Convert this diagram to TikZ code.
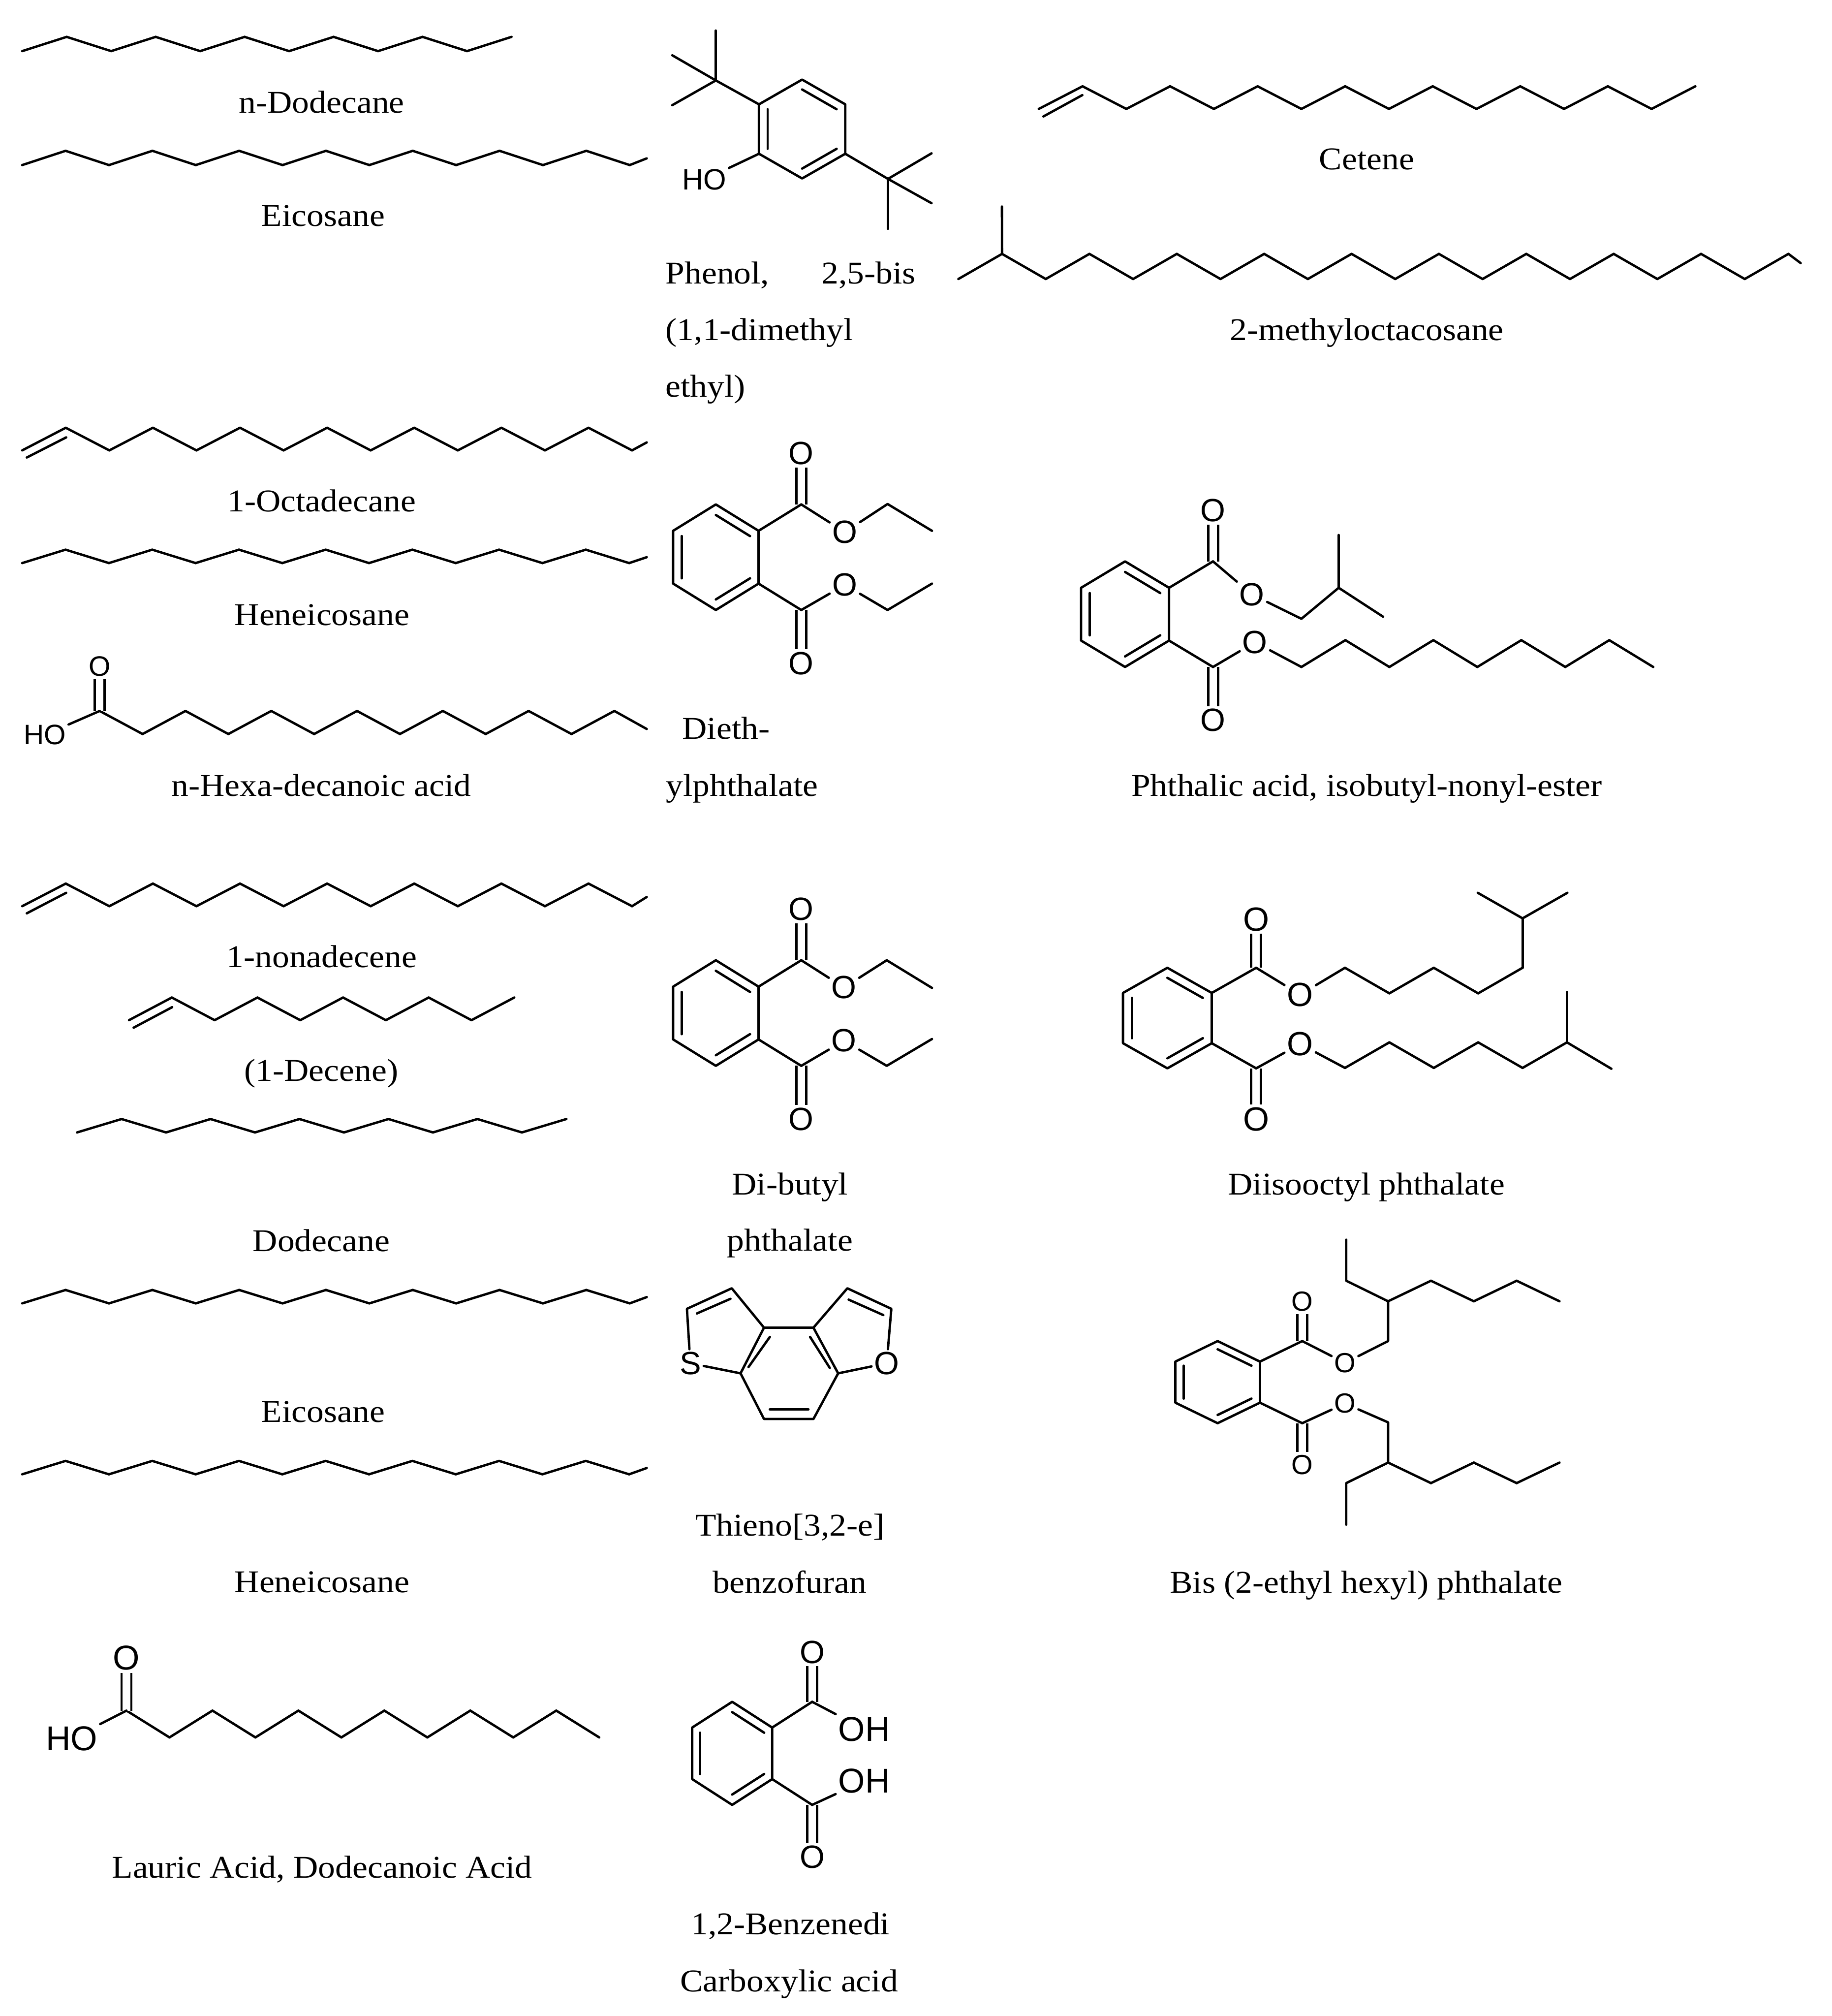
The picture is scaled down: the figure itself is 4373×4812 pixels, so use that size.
\documentclass[tikz,border=0pt]{standalone}
\usepackage{fontspec}
\setmainfont[FakeStretch=1.08]{Liberation Serif}
\newfontfamily\chemfont{Liberation Sans}
\usetikzlibrary{calc}

% name, x, y, dx, dy, segments
\newcommand{\zigzag}[6]{%
  \coordinate (#1-0) at (#2,#3);
  \foreach \i [remember=\i as \j (initially 0)] in {1,...,#6} {
    \coordinate (#1-\i) at ({#2+#4*\i},{#3+#5*mod(\i,2)});
    \draw[bond] (#1-\j) -- (#1-\i);
  }
}
% name, centre x, centre y, half width, half height
\newcommand{\benzene}[5]{%
  \coordinate (#1-c) at (#2,#3);
  \coordinate (#1-1) at (#2,{#3-#5});
  \coordinate (#1-2) at ({#2+#4},{#3-#5/2});
  \coordinate (#1-3) at ({#2+#4},{#3+#5/2});
  \coordinate (#1-4) at (#2,{#3+#5});
  \coordinate (#1-5) at ({#2-#4},{#3+#5/2});
  \coordinate (#1-6) at ({#2-#4},{#3-#5/2});
  \draw[bond] (#1-1) -- (#1-2) -- (#1-3) -- (#1-4) -- (#1-5) -- (#1-6) -- cycle;
  \draw[bond] ($(#1-1)!0.2!(#1-c)$) -- ($(#1-2)!0.2!(#1-c)$);
  \draw[bond] ($(#1-3)!0.2!(#1-c)$) -- ($(#1-4)!0.2!(#1-c)$);
  \draw[bond] ($(#1-5)!0.2!(#1-c)$) -- ($(#1-6)!0.2!(#1-c)$);
}
% ring with its two C=O groups: name, x, y, half width, half height, atom size
\newcommand{\phthalate}[6]{%
  \coordinate (#1-Cu) at ({#2+2*#4},{#3-#5});
  \coordinate (#1-Cl) at ({#2+2*#4},{#3+#5});
  \node[atom=#6] (#1-Ou) at ({#2+2*#4},{#3-1.965*#5}) {O};
  \node[atom=#6] (#1-Ol) at ({#2+2*#4},{#3+2.01*#5}) {O};
  \draw[dbond] (#1-Cu) -- (#1-Ou);
  \draw[dbond] (#1-Cl) -- (#1-Ol);
  \benzene{#1}{#2}{#3}{#4}{#5}
  \draw[bond] (#1-2) -- (#1-Cu);
  \draw[bond] (#1-3) -- (#1-Cl);
}

\begin{document}
\begin{tikzpicture}[x=0.0065cm, y=-0.0065cm,
    bond/.style={line width=1.05pt, line cap=round, line join=round},
    dbond/.style={line width=1.05pt, double, double distance=3.3pt},
    atom/.style={inner sep=1pt, font=\chemfont\fontsize{#1}{18}\selectfont},
    atom/.default=14.2,
    compound/.style={anchor=base, inner sep=0pt, font=\fontsize{14}{17}\selectfont}]
  \useasboundingbox (0,0) rectangle (4373,4812);

  % left column
  \zigzag{dod}{53}{122}{106.2}{-34}{11}
  \node[compound] (dodname) at (768,270) {n-Dodecane};

  \zigzag{eic}{53}{394}{103.6}{-34}{14}
  \coordinate (eicend) at (1544,378);
  \draw[bond] (eic-14) -- (eicend);
  \node[compound] (eicname) at (771,540) {Eicosane};

  \zigzag{oct}{53}{1075}{104}{-54}{14}
  \coordinate (octend) at (1544,1056);
  \coordinate (octa) at (64,1092);
  \coordinate (octb) at (158,1044);
  \draw[bond] (oct-14) -- (octend);
  \draw[bond] (octa) -- (octb);
  \node[compound] (octname) at (768,1221) {1-Octadecane};

  \zigzag{hen}{53}{1344}{103.5}{-32}{14}
  \coordinate (henend) at (1544,1330);
  \draw[bond] (hen-14) -- (henend);
  \node[compound] (henname) at (769,1492) {Heneicosane};

  \zigzag{hex}{238}{1697}{102.4}{55}{12}
  \coordinate (hexend) at (1544,1740);
  \draw[bond] (hex-12) -- (hexend);
  \node[atom=12.4] (hexO) at (238,1591) {O};
  \node[atom=12.4] (hexHO) at (107,1754) {HO};
  \draw[dbond] (hex-0) -- (hexO);
  \draw[bond] (hex-0) -- (hexHO);
  \node[compound] (hexname) at (767,1900) {n-Hexa-decanoic acid};

  \zigzag{non}{53}{2163}{104}{-54}{14}
  \coordinate (nonend) at (1544,2141);
  \coordinate (nona) at (64,2180);
  \coordinate (nonb) at (158,2131);
  \draw[bond] (non-14) -- (nonend);
  \draw[bond] (nona) -- (nonb);
  \node[compound] (nonname) at (768,2309) {1-nonadecene};

  \zigzag{dec}{308}{2435}{102.2}{-54}{9}
  \coordinate (deca) at (319,2453);
  \coordinate (decb) at (411,2404);
  \draw[bond] (deca) -- (decb);
  \node[compound] (decname) at (767,2580) {(1-Decene)};

  \zigzag{ddc}{184}{2703}{106.2}{-32}{11}
  \node[compound] (ddcname) at (767,2987) {Dodecane};

  \zigzag{eib}{53}{3111}{103.6}{-32}{14}
  \coordinate (eibend) at (1544,3096);
  \draw[bond] (eib-14) -- (eibend);
  \node[compound] (eibname) at (771,3395) {Eicosane};

  \zigzag{heb}{53}{3519}{103.5}{-32}{14}
  \coordinate (hebend) at (1544,3504);
  \draw[bond] (heb-14) -- (hebend);
  \node[compound] (hebname) at (769,3801) {Heneicosane};

  \zigzag{lau}{302}{4083}{102.6}{64}{11}
  \node[atom=15.2] (lauO) at (302,3957) {O};
  \node[atom=15.2] (lauHO) at (171,4150) {HO};
  \draw[dbond] (lau-0) -- (lauO);
  \draw[bond] (lau-0) -- (lauHO);
  \node[compound] (launame) at (769,4482) {Lauric Acid, Dodecanoic Acid};

  % middle column
  \benzene{phe}{1915}{308}{103}{118}
  \coordinate (phebu) at (1709,192);
  \coordinate (phebua) at (1709,73);
  \coordinate (phebub) at (1605,132);
  \coordinate (phebuc) at (1605,251);
  \coordinate (phetb) at (2120,427);
  \coordinate (phetba) at (2224,366);
  \coordinate (phetbb) at (2224,485);
  \coordinate (phetbc) at (2120,546);
  \node[atom=13] (pheHO) at (1681,429) {HO};
  \draw[bond] (phe-6) -- (phebu);
  \draw[bond] (phebu) -- (phebua);
  \draw[bond] (phebu) -- (phebub);
  \draw[bond] (phebu) -- (phebuc);
  \draw[bond] (phe-3) -- (phetb);
  \draw[bond] (phetb) -- (phetba);
  \draw[bond] (phetb) -- (phetbb);
  \draw[bond] (phetb) -- (phetbc);
  \draw[bond] (phe-5) -- (pheHO);
  \node[compound, anchor=base west] (phenamea) at (1588,677) {Phenol,};
  \node[compound, anchor=base west] (phenameb) at (1960,677) {2,5-bis};
  \node[compound, anchor=base west] (phenamec) at (1588,812) {(1,1-dimethyl};
  \node[compound, anchor=base west] (phenamed) at (1588,947) {ethyl)};

  \phthalate{dep}{1709}{1330}{102}{126}{14.2}
  \node[atom] (depEu) at (2017,1270) {O};
  \node[atom] (depEl) at (2017,1396) {O};
  \coordinate (depa) at (2119,1203);
  \coordinate (depb) at (2225,1267);
  \coordinate (depc) at (2119,1456);
  \coordinate (depd) at (2225,1393);
  \draw[bond] (dep-Cu) -- (depEu);
  \draw[bond] (depEu) -- (depa) -- (depb);
  \draw[bond] (dep-Cl) -- (depEl);
  \draw[bond] (depEl) -- (depc) -- (depd);
  \node[compound, anchor=base west] (depnamea) at (1628,1764) {Dieth-};
  \node[compound, anchor=base west] (depnameb) at (1589,1900) {ylphthalate};

  \phthalate{dbp}{1709}{2418}{102}{126}{14.2}
  \node[atom] (dbpEu) at (2015,2357) {O};
  \node[atom] (dbpEl) at (2015,2484) {O};
  \coordinate (dbpa) at (2117,2292);
  \coordinate (dbpb) at (2225,2358);
  \coordinate (dbpc) at (2117,2544);
  \coordinate (dbpd) at (2225,2480);
  \draw[bond] (dbp-Cu) -- (dbpEu);
  \draw[bond] (dbpEu) -- (dbpa) -- (dbpb);
  \draw[bond] (dbp-Cl) -- (dbpEl);
  \draw[bond] (dbpEl) -- (dbpc) -- (dbpd);
  \node[compound] (dbpnamea) at (1886,2852) {Di-butyl};
  \node[compound] (dbpnameb) at (1886,2986) {phthalate};

  \node[atom] (tbfS) at (1648,3254) {S};
  \node[atom] (tbfO) at (2117,3254) {O};
  \coordinate (tbfa) at (1747,3075);
  \coordinate (tbfb) at (1640,3124);
  \coordinate (tbfc) at (1824,3169);
  \coordinate (tbfd) at (1942,3169);
  \coordinate (tbfe) at (2023,3075);
  \coordinate (tbff) at (2128,3124);
  \coordinate (tbfg) at (1768,3278);
  \coordinate (tbfh) at (2001,3278);
  \coordinate (tbfi) at (1824,3387);
  \coordinate (tbfj) at (1942,3387);
  \draw[bond] (tbfS) -- (tbfb) -- (tbfa) -- (tbfc) -- (tbfd) -- (tbfe) -- (tbff) -- (tbfO);
  \draw[bond] (tbfS) -- (tbfg) -- (tbfc);
  \draw[bond] (tbfO) -- (tbfh) -- (tbfd);
  \draw[bond] (tbfg) -- (tbfi) -- (tbfj) -- (tbfh);
  \coordinate (tbfk) at (1664,3135);
  \coordinate (tbfl) at (1744,3100);
  \coordinate (tbfm) at (2026,3102);
  \coordinate (tbfn) at (2109,3139);
  \coordinate (tbfo) at (1838,3191);
  \coordinate (tbfp) at (1787,3263);
  \coordinate (tbfq) at (1934,3191);
  \coordinate (tbfr) at (1981,3265);
  \coordinate (tbfs) at (1838,3364);
  \coordinate (tbft) at (1930,3364);
  \draw[bond] (tbfk) -- (tbfl);
  \draw[bond] (tbfm) -- (tbfn);
  \draw[bond] (tbfo) -- (tbfp);
  \draw[bond] (tbfq) -- (tbfr);
  \draw[bond] (tbfs) -- (tbft);
  \node[compound] (tbfnamea) at (1886,3666) {Thieno[3,2-e]};
  \node[compound] (tbfnameb) at (1885,3802) {benzofuran};

  \phthalate{pta}{1748}{4185}{95.5}{123}{14.2}
  \node[atom=15.2] (ptaHa) at (2063,4127) {OH};
  \node[atom=15.2] (ptaHb) at (2063,4251) {OH};
  \draw[bond] (pta-Cu) -- (ptaHa);
  \draw[bond] (pta-Cl) -- (ptaHb);
  \node[compound] (ptanamea) at (1887,4618) {1,2-Benzenedi};
  \node[compound] (ptanameb) at (1884,4754) {Carboxylic acid};

  % right column
  \zigzag{cet}{2480}{260}{104.5}{-54}{15}
  \coordinate (ceta) at (2491,278);
  \coordinate (cetb) at (2584,227);
  \draw[bond] (ceta) -- (cetb);
  \node[compound] (cetname) at (3263,405) {Cetene};

  \zigzag{mto}{2288}{666}{104.3}{-60}{19}
  \coordinate (mtotop) at (2392,493);
  \coordinate (mtoend) at (4299,628);
  \draw[bond] (mto-1) -- (mtotop);
  \draw[bond] (mto-19) -- (mtoend);
  \node[compound] (mtoname) at (3263,812) {2-methyloctacosane};

  \phthalate{ipn}{2686}{1466}{105}{126}{14.2}
  \node[atom] (ipnEu) at (2989,1419) {O};
  \node[atom] (ipnEl) at (2996,1533) {O};
  \coordinate (ipna) at (3107,1477);
  \coordinate (ipnb) at (3196,1403);
  \coordinate (ipnc) at (3196,1277);
  \coordinate (ipnd) at (3302,1472);
  \draw[bond] (ipn-Cu) -- (ipnEu);
  \draw[bond] (ipnEu) -- (ipna) -- (ipnb) -- (ipnc);
  \draw[bond] (ipnb) -- (ipnd);
  \draw[bond] (ipn-Cl) -- (ipnEl);
  \zigzag{ipl}{3107}{1592}{105}{-64}{8}
  \draw[bond] (ipnEl) -- (ipl-0);
  \node[compound] (ipnname) at (3263,1900) {Phthalic acid, isobutyl-nonyl-ester};

  \phthalate{dop}{2787}{2430}{106}{120}{14.8}
  \node[atom=14.8] (dopEu) at (3104,2374) {O};
  \node[atom=14.8] (dopEl) at (3104,2492) {O};
  \zigzag{dou}{3211}{2310}{106}{61}{4}
  \zigzag{dol}{3211}{2549}{106}{-61}{5}
  \coordinate (dopa) at (3635,2192);
  \coordinate (dopb) at (3528,2131);
  \coordinate (dopc) at (3742,2131);
  \coordinate (dopd) at (3741,2368);
  \coordinate (dope) at (3847,2551);
  \draw[bond] (dop-Cu) -- (dopEu);
  \draw[bond] (dop-Cl) -- (dopEl);
  \draw[bond] (dopEu) -- (dou-0);
  \draw[bond] (dopEl) -- (dol-0);
  \draw[bond] (dou-4) -- (dopa);
  \draw[bond] (dopa) -- (dopb);
  \draw[bond] (dopa) -- (dopc);
  \draw[bond] (dol-5) -- (dopd);
  \draw[bond] (dol-5) -- (dope);
  \node[compound] (dopname) at (3262,2852) {Diisooctyl phthalate};

  \phthalate{deh}{2907}{3299}{101}{98}{12.2}
  \node[atom=12.2] (dehEu) at (3211,3253) {O};
  \node[atom=12.2] (dehEl) at (3211,3350) {O};
  \coordinate (deha) at (3314,3201);
  \coordinate (dehb) at (3314,3395);
  \zigzag{deu}{3314}{3106}{102.3}{-49}{4}
  \zigzag{del}{3314}{3491}{102.3}{49}{4}
  \coordinate (dehc) at (3214,3057);
  \coordinate (dehd) at (3214,2959);
  \coordinate (dehe) at (3214,3540);
  \coordinate (dehf) at (3214,3639);
  \draw[bond] (deh-Cu) -- (dehEu);
  \draw[bond] (deh-Cl) -- (dehEl);
  \draw[bond] (dehEu) -- (deha) -- (deu-0) -- (dehc) -- (dehd);
  \draw[bond] (dehEl) -- (dehb) -- (del-0) -- (dehe) -- (dehf);
  \node[compound] (dehname) at (3262,3802) {Bis (2-ethyl hexyl) phthalate};
\end{tikzpicture}
\end{document}
